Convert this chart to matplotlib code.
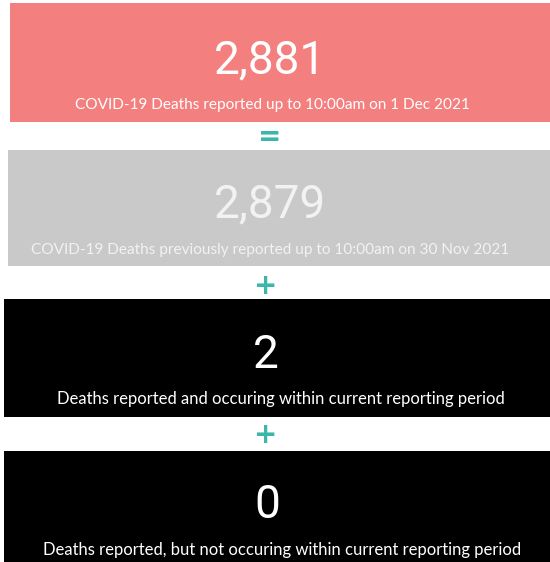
import matplotlib.pyplot as plt
from matplotlib.patches import Rectangle

# Card values and captions
values = [2881, 2879, 2, 0]
captions = [
    'COVID-19 Deaths reported up to 10:00am on 1 Dec 2021',
    'COVID-19 Deaths previously reported up to 10:00am on 30 Nov 2021',
    'Deaths reported and occuring within current reporting period',
    'Deaths reported, but not occuring within current reporting period',
]
operators = ['=', '+', '+']

# Layout (pixels), one entry per card
card_left = [10, 8, 4, 4]
card_top = [3, 150, 299, 451]
card_bottom = [122, 266, 417, 562]
num_x = [270, 270, 266, 267]
num_y = [60, 204, 355, 505]
cap_x = [272, 270, 281, 282]
cap_y = [105, 250, 399, 550]
cap_size = [11.1, 11.1, 12, 12]
card_colors = ['#f47f7f', '#c9c9c9', '#000000', '#000000']
text_colors = ['#ffffff', '#f2f2f2', '#ffffff', '#ffffff']
op_x = [270, 266, 266]
op_y = [137, 286, 435]
teal = '#3ab7aa'

W, H = 550, 562
fig = plt.figure(figsize=(W / 100, H / 100), dpi=100)
ax = fig.add_axes([0, 0, 1, 1])
ax.set_xlim(0, W)
ax.set_ylim(H, 0)
ax.axis('off')

num_font = ['Roboto', 'DejaVu Sans']
cap_font = ['Lato', 'DejaVu Sans']

for i, val in enumerate(values):
    ax.add_patch(Rectangle((card_left[i], card_top[i]), W - card_left[i],
                           card_bottom[i] - card_top[i],
                           facecolor=card_colors[i], edgecolor='none'))
    ax.text(num_x[i], num_y[i], f'{val:,}', ha='center', va='center',
            fontsize=33, fontweight='normal', color=text_colors[i],
            family=num_font)
    ax.text(cap_x[i], cap_y[i], captions[i], ha='center', va='center',
            fontsize=cap_size[i], color=text_colors[i], family=cap_font)

# Operators between the cards
for x, y, op in zip(op_x, op_y, operators):
    ax.text(x, y, op, ha='center', va='center', fontsize=20,
            fontweight='bold', color=teal, family='DejaVu Sans')

fig.savefig('out.png', dpi=100)
